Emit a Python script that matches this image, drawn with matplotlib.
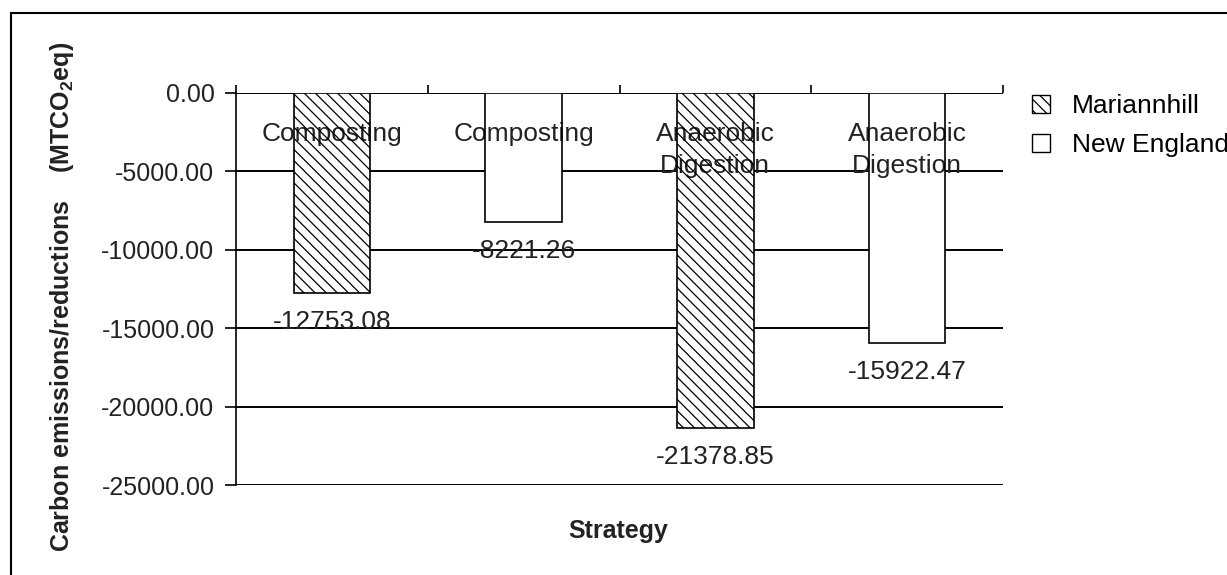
import matplotlib
matplotlib.use("Agg")
import matplotlib.pyplot as plt
from matplotlib.patches import Patch, Rectangle

plt.rcParams['font.family'] = ['Liberation Sans', 'DejaVu Sans']
plt.rcParams['mathtext.fontset'] = 'custom'
plt.rcParams['mathtext.rm'] = 'Liberation Sans:bold'
plt.rcParams['mathtext.default'] = 'rm'
plt.rcParams['hatch.linewidth'] = 0.9

# ---- data ----
categories = ["Composting", "Composting", "Anaerobic\nDigestion", "Anaerobic\nDigestion"]
sites = ["Mariannhill", "New England", "Mariannhill", "New England"]
values = [-12753.08, -8221.26, -21378.85, -15922.47]
series_names = ["Mariannhill", "New England"]
y_ticks = [0, -5000, -10000, -15000, -20000, -25000]
y_label = r"Carbon emissions/reductions    (MTCO$_2$eq)"
x_label = "Strategy"

hatches = {"Mariannhill": "\\\\\\", "New England": ""}
text_color = "#222222"

fig = plt.figure(figsize=(12.27, 5.75), dpi=100)
W, H = 1227, 575
ax = fig.add_axes([236 / W, 1 - 485 / H, (1003 - 236) / W, (485 - 93) / H])

xs = list(range(len(values)))
# white fill
ax.bar(xs, values, width=0.4, color="white", edgecolor="none", zorder=2)
# category labels inside plot, under the hatching
for x, c in zip(xs, categories):
    ax.annotate(c, xy=(x, 0), xytext=(0, -21), textcoords="offset points",
                ha="center", va="top", ma="center", fontsize=19,
                color=text_color, zorder=3, linespacing=1.43)
# outline + hatch
ax.bar(xs, values, width=0.4, color="none", edgecolor="black", linewidth=1.2,
       hatch=[hatches[s] for s in sites], zorder=4)

# value labels
for x, v in zip(xs, values):
    ax.annotate(f"{v:.2f}", xy=(x, v), xytext=(0, -21), textcoords="offset points",
                ha="center", va="center", fontsize=19, color=text_color, zorder=5)

ax.set_xlim(-0.5, len(values) - 0.5)
ax.set_ylim(min(y_ticks), max(y_ticks))
ax.set_yticks(y_ticks)
ax.set_yticklabels([f"{t:.2f}" for t in y_ticks], fontsize=18, color=text_color)
ax.tick_params(axis="y", direction="out", length=8, width=1.2, pad=7.5)

ax.xaxis.tick_top()
ax.set_xticks([i - 0.5 for i in range(len(values) + 1)])
ax.set_xticklabels([])
ax.tick_params(axis="x", direction="out", length=6, width=1.2)

for s in ["right", "bottom", "top"]:
    ax.spines[s].set_visible(False)
ax.spines["left"].set_linewidth(1.2)
ax.yaxis.grid(True, color="black", linewidth=1.4, zorder=1)
ax.set_axisbelow(True)

# legend
handles = [Patch(facecolor="white", edgecolor="black", hatch=hatches[n], label=n)
           for n in series_names]
fig.legend(handles=handles, loc="upper left", bbox_to_anchor=(1032 / W, 1 - 94 / H),
           frameon=False, fontsize=19, handlelength=0.7, handleheight=0.7,
           handletextpad=0.8, labelspacing=0.57, borderaxespad=0, borderpad=0)

# axis titles
fig.text(62 / W, 1 - 297 / H, y_label, rotation=90, ha="center", va="center",
         fontsize=18, fontweight="bold", color=text_color)
fig.text(618 / W, 1 - 538 / H, x_label, ha="center", va="baseline",
         fontsize=18, fontweight="bold", color=text_color)

# outer frame
fig.patches.append(Rectangle((11 / W, -0.05), 1.1, 1 - 13 / H + 0.05,
                             transform=fig.transFigure, fill=False,
                             edgecolor="black", linewidth=1.5))

fig.savefig("out.png", dpi=100)
